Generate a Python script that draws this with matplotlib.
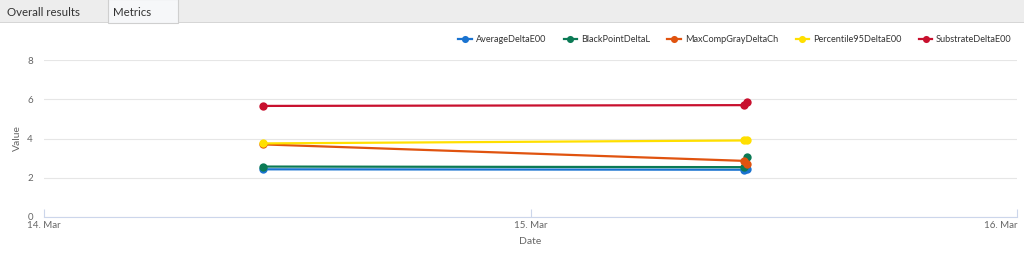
import matplotlib
matplotlib.use("Agg")
import matplotlib.pyplot as plt
import pandas as pd
from matplotlib.patches import Rectangle

plt.rcParams["font.family"] = ["Lato", "DejaVu Sans"]

# measurement times (same for every series)
dates = pd.to_datetime(["2024-03-14 10:48", "2024-03-15 10:32", "2024-03-15 10:40"])

series_names = ["AverageDeltaE00", "BlackPointDeltaL", "MaxCompGrayDeltaCh",
                "Percentile95DeltaE00", "SubstrateDeltaE00"]
average_de00 = [2.43, 2.41, 2.44]
blackpoint_dl = [2.57, 2.54, 3.05]
maxcompgray_dch = [3.70, 2.86, 2.72]
percentile95_de00 = [3.75, 3.90, 3.90]
substrate_de00 = [5.66, 5.70, 5.85]
values = [average_de00, blackpoint_dl, maxcompgray_dch, percentile95_de00, substrate_de00]

colors = ["#1a73d0", "#0b7a55", "#e0530f", "#ffdf00", "#c8102e"]

x_ticks = pd.to_datetime(["2024-03-14", "2024-03-15", "2024-03-16"])
x_tick_labels = ["14. Mar", "15. Mar", "16. Mar"]
y_ticks = [0, 2, 4, 6, 8]

W, H = 1024, 259
fig = plt.figure(figsize=(W / 100, H / 100), dpi=100)
fig.patch.set_facecolor("white")

# tab strip at the top
fig.patches.append(Rectangle((0, 1 - 22 / H), 1, 22 / H, transform=fig.transFigure,
                             facecolor="#ededed", edgecolor="none", zorder=0))
fig.patches.append(Rectangle((0, 1 - 23 / H), 1, 1 / H, transform=fig.transFigure,
                             facecolor="#d6d6d6", edgecolor="none", zorder=1))
fig.patches.append(Rectangle((108 / W, 1 - 23 / H), 70 / W, 24 / H, transform=fig.transFigure,
                             facecolor="#f6f7f9", edgecolor="#cfcfcf", lw=0.8, zorder=2))
fig.text(7 / W, 1 - 12 / H, "Overall results", fontsize=8.3, color="#333333",
         va="center", ha="left")
fig.text(113 / W, 1 - 12 / H, "Metrics", fontsize=8.3, color="#333333",
         va="center", ha="left", zorder=3)

ax = fig.add_axes([44 / W, 1 - 217 / H, (1017 - 44) / W, (217 - 60) / H])
for name, vals, c in zip(series_names, values, colors):
    ax.plot(dates, vals, color=c, lw=1.6, marker="o", markersize=6,
            markeredgewidth=0, label=name, zorder=3)

ax.set_xlim(x_ticks[0], x_ticks[-1])
ax.set_ylim(0, 8)
ax.set_yticks(y_ticks)
ax.set_yticklabels([str(v) for v in y_ticks])
ax.set_xticks(x_ticks)
ax.set_xticklabels(x_tick_labels)
ax.get_xticklabels()[-1].set_ha("right")

ax.grid(axis="y", color="#e6e6e6", lw=0.8)
ax.set_axisbelow(True)
for side in ["top", "right", "left"]:
    ax.spines[side].set_visible(False)
ax.spines["bottom"].set_color("#ccd6eb")
ax.tick_params(axis="y", length=0, labelsize=7, labelcolor="#666666", pad=8)
ax.tick_params(axis="x", length=6, color="#ccd6eb", direction="in",
               labelsize=7, labelcolor="#666666", pad=3)
ax.set_ylabel("Value", fontsize=7.5, color="#666666", labelpad=4)
ax.set_xlabel("Date", fontsize=7.5, color="#666666", labelpad=5)

handles, labels = ax.get_legend_handles_labels()
fig.legend(handles, labels, loc="center right", bbox_to_anchor=(1020 / W, 1 - 40 / H),
           ncol=5, frameon=False, fontsize=6.6, handlelength=1.5, handletextpad=0.4,
           columnspacing=1.9, labelcolor="#333333", markerscale=0.85)

fig.savefig("out.png", dpi=100, facecolor="white")
